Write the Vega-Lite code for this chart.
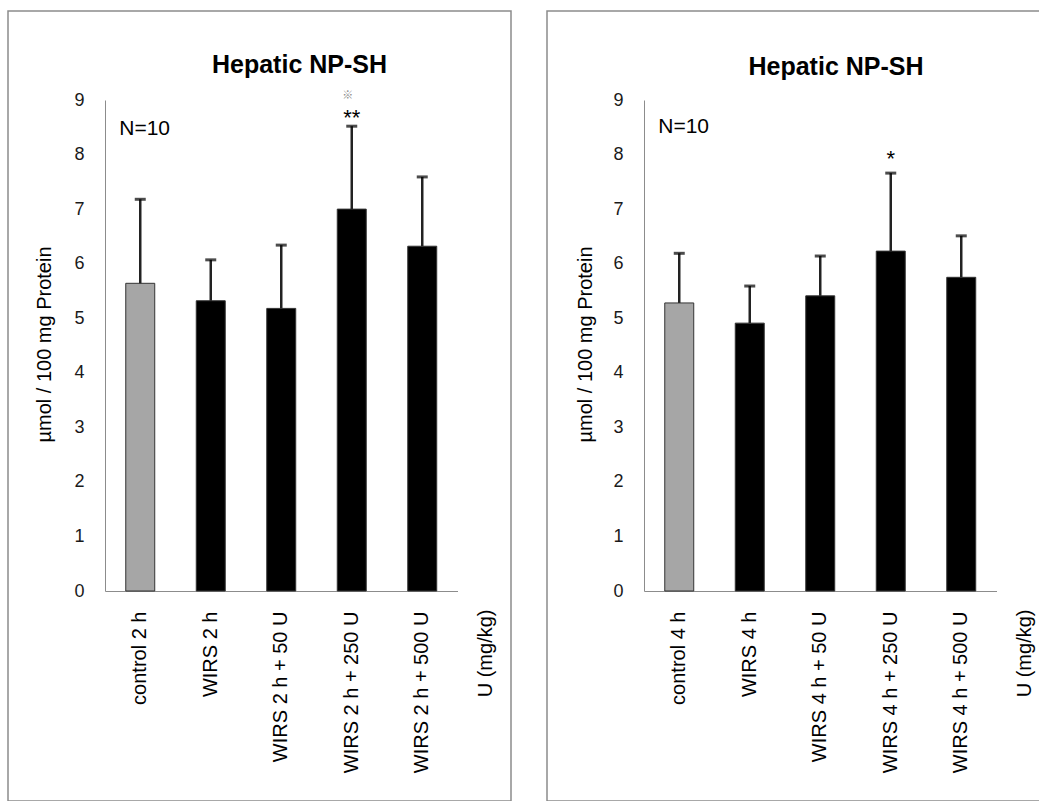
{
  "$schema": "https://vega.github.io/schema/vega-lite/v6.json",
  "padding": {"left": 7, "top": 10, "right": 0, "bottom": 0},
  "background": "white",
  "spacing": 34,
  "config": {
    "view": {"stroke": "#8c8c8c", "strokeWidth": 1.5},
    "font": "Liberation Sans",
    "axis": {"grid": false, "ticks": false, "domainColor": "#8c8c8c", "domainWidth": 1, "labelColor": "#1a1a1a", "titleColor": "#000000", "titleFontWeight": "normal", "labelFont": "Liberation Sans", "titleFont": "Liberation Sans"}
  },
  "datasets": {
    "left": [
      {"cat": "control 2 h", "grp": "control", "mean": 5.64, "upper": 7.18},
      {"cat": "WIRS 2 h", "grp": "WIRS", "mean": 5.32, "upper": 6.07},
      {"cat": "WIRS 2 h + 50 U", "grp": "WIRS", "mean": 5.18, "upper": 6.34},
      {"cat": "WIRS 2 h + 250 U", "grp": "WIRS", "mean": 7.0, "upper": 8.52},
      {"cat": "WIRS 2 h + 500 U", "grp": "WIRS", "mean": 6.32, "upper": 7.59}
    ],
    "right": [
      {"cat": "control 4 h", "grp": "control", "mean": 5.28, "upper": 6.19},
      {"cat": "WIRS 4 h", "grp": "WIRS", "mean": 4.91, "upper": 5.59},
      {"cat": "WIRS 4 h + 50 U", "grp": "WIRS", "mean": 5.41, "upper": 6.14},
      {"cat": "WIRS 4 h + 250 U", "grp": "WIRS", "mean": 6.23, "upper": 7.66},
      {"cat": "WIRS 4 h + 500 U", "grp": "WIRS", "mean": 5.75, "upper": 6.51}
    ],
    "notesLeft": [
      {"cat": "control 2 h", "kind": "n", "label": "N=10", "at": 8.35},
      {"cat": "WIRS 2 h + 250 U", "kind": "sig", "label": "**", "at": 8.55},
      {"cat": "WIRS 2 h + 250 U", "kind": "ref", "label": "※", "at": 9.07}
    ],
    "notesRight": [
      {"cat": "control 4 h", "kind": "n", "label": "N=10", "at": 8.39},
      {"cat": "WIRS 4 h + 250 U", "kind": "sig", "label": "*", "at": 7.79}
    ]
  },
  "hconcat": [
    {
      "width": 503,
      "height": 790,
      "title": {"text": "Hepatic NP-SH", "fontSize": 25, "fontWeight": "bold", "font": "Liberation Sans", "color": "#000000", "anchor": "middle", "frame": "group", "baseline": "alphabetic", "offset": 0, "dx": 40, "dy": 87},
      "encoding": {
        "x": {"field": "cat", "type": "nominal", "title": "U (mg/kg)",
          "scale": {"domain": ["control 2 h", "WIRS 2 h", "WIRS 2 h + 50 U", "WIRS 2 h + 250 U", "WIRS 2 h + 500 U"], "range": [97, 449.5], "paddingInner": 0.589, "paddingOuter": 0.2945},
          "axis": {"offset": -210, "labelAngle": 270, "labelAlign": "right", "labelBaseline": "middle", "labelFontSize": 20, "labelPadding": 20, "labelColor": "#000000", "titleFontSize": 20, "titleAngle": 270, "titleAlign": "right", "titleBaseline": "middle", "titleX": 477, "titleY": 18}
        }
      },
      "layer": [
        {
          "data": {"name": "left"},
          "mark": {"type": "bar", "stroke": "#333333", "strokeWidth": 1},
          "encoding": {
            "y": {"field": "mean", "type": "quantitative", "title": "µmol / 100 mg Protein",
              "scale": {"domain": [0, 9], "range": [580, 89], "nice": false, "zero": true},
              "axis": {"offset": -97, "values": [0, 1, 2, 3, 4, 5, 6, 7, 8, 9], "format": "d", "labelFontSize": 18, "labelPadding": 21, "titleFontSize": 20, "titleAngle": 270, "titleAlign": "center", "titleBaseline": "middle", "titleX": -61, "titleY": 333}
            },
            "color": {"field": "grp", "type": "nominal", "legend": null, "scale": {"domain": ["control", "WIRS"], "range": ["#a6a6a6", "#000000"]}}
          }
        },
        {
          "data": {"name": "left"},
          "mark": {"type": "rule", "color": "#222222", "strokeWidth": 2.5},
          "encoding": {
            "y": {"field": "mean", "type": "quantitative", "title": "µmol / 100 mg Protein", "scale": {"domain": [0, 9], "range": [580, 89], "nice": false}},
            "y2": {"field": "upper"}
          }
        },
        {
          "data": {"name": "left"},
          "mark": {"type": "tick", "color": "#000000", "orient": "horizontal", "size": 11, "thickness": 3},
          "encoding": {
            "y": {"field": "upper", "type": "quantitative", "title": "µmol / 100 mg Protein", "scale": {"domain": [0, 9], "range": [580, 89], "nice": false}}
          }
        },
        {
          "data": {"name": "notesLeft"},
          "transform": [{"filter": "datum.kind == 'n'"}],
          "mark": {"type": "text", "fontSize": 21, "align": "left", "baseline": "alphabetic", "dx": -21, "color": "#000000"},
          "encoding": {
            "y": {"field": "at", "type": "quantitative", "title": "µmol / 100 mg Protein", "scale": {"domain": [0, 9], "range": [580, 89], "nice": false}},
            "text": {"field": "label"}
          }
        },
        {
          "data": {"name": "notesLeft"},
          "transform": [{"filter": "datum.kind == 'sig'"}],
          "mark": {"type": "text", "fontSize": 22, "align": "center", "baseline": "alphabetic", "color": "#000000"},
          "encoding": {
            "y": {"field": "at", "type": "quantitative", "title": "µmol / 100 mg Protein", "scale": {"domain": [0, 9], "range": [580, 89], "nice": false}},
            "text": {"field": "label"}
          }
        },
        {
          "data": {"name": "notesLeft"},
          "transform": [{"filter": "datum.kind == 'ref'"}],
          "mark": {"type": "text", "fontSize": 11, "align": "center", "baseline": "middle", "dx": -4, "color": "#8c8c8c", "font": "Noto Sans CJK JP"},
          "encoding": {
            "y": {"field": "at", "type": "quantitative", "title": "µmol / 100 mg Protein", "scale": {"domain": [0, 9], "range": [580, 89], "nice": false}},
            "text": {"field": "label"}
          }
        }
      ]
    },
    {
      "width": 494,
      "height": 790,
      "title": {"text": "Hepatic NP-SH", "fontSize": 25, "fontWeight": "bold", "font": "Liberation Sans", "color": "#000000", "anchor": "middle", "frame": "group", "baseline": "alphabetic", "offset": 0, "dx": 42, "dy": 89},
      "encoding": {
        "x": {"field": "cat", "type": "nominal", "title": "U (mg/kg)",
          "scale": {"domain": ["control 4 h", "WIRS 4 h", "WIRS 4 h + 50 U", "WIRS 4 h + 250 U", "WIRS 4 h + 500 U"], "range": [97, 449.5], "paddingInner": 0.589, "paddingOuter": 0.2945},
          "axis": {"offset": -210, "labelAngle": 270, "labelAlign": "right", "labelBaseline": "middle", "labelFontSize": 20, "labelPadding": 20, "labelColor": "#000000", "titleFontSize": 20, "titleAngle": 270, "titleAlign": "right", "titleBaseline": "middle", "titleX": 477, "titleY": 18}
        }
      },
      "layer": [
        {
          "data": {"name": "right"},
          "mark": {"type": "bar", "stroke": "#333333", "strokeWidth": 1},
          "encoding": {
            "y": {"field": "mean", "type": "quantitative", "title": "µmol / 100 mg Protein",
              "scale": {"domain": [0, 9], "range": [580, 89], "nice": false, "zero": true},
              "axis": {"offset": -97, "values": [0, 1, 2, 3, 4, 5, 6, 7, 8, 9], "format": "d", "labelFontSize": 18, "labelPadding": 21, "titleFontSize": 20, "titleAngle": 270, "titleAlign": "center", "titleBaseline": "middle", "titleX": -59, "titleY": 333}
            },
            "color": {"field": "grp", "type": "nominal", "legend": null, "scale": {"domain": ["control", "WIRS"], "range": ["#a6a6a6", "#000000"]}}
          }
        },
        {
          "data": {"name": "right"},
          "mark": {"type": "rule", "color": "#222222", "strokeWidth": 2.5},
          "encoding": {
            "y": {"field": "mean", "type": "quantitative", "title": "µmol / 100 mg Protein", "scale": {"domain": [0, 9], "range": [580, 89], "nice": false}},
            "y2": {"field": "upper"}
          }
        },
        {
          "data": {"name": "right"},
          "mark": {"type": "tick", "color": "#000000", "orient": "horizontal", "size": 11, "thickness": 3},
          "encoding": {
            "y": {"field": "upper", "type": "quantitative", "title": "µmol / 100 mg Protein", "scale": {"domain": [0, 9], "range": [580, 89], "nice": false}}
          }
        },
        {
          "data": {"name": "notesRight"},
          "transform": [{"filter": "datum.kind == 'n'"}],
          "mark": {"type": "text", "fontSize": 21, "align": "left", "baseline": "alphabetic", "dx": -21, "color": "#000000"},
          "encoding": {
            "y": {"field": "at", "type": "quantitative", "title": "µmol / 100 mg Protein", "scale": {"domain": [0, 9], "range": [580, 89], "nice": false}},
            "text": {"field": "label"}
          }
        },
        {
          "data": {"name": "notesRight"},
          "transform": [{"filter": "datum.kind == 'sig'"}],
          "mark": {"type": "text", "fontSize": 22, "align": "center", "baseline": "alphabetic", "color": "#000000"},
          "encoding": {
            "y": {"field": "at", "type": "quantitative", "title": "µmol / 100 mg Protein", "scale": {"domain": [0, 9], "range": [580, 89], "nice": false}},
            "text": {"field": "label"}
          }
        }
      ]
    }
  ]
}
